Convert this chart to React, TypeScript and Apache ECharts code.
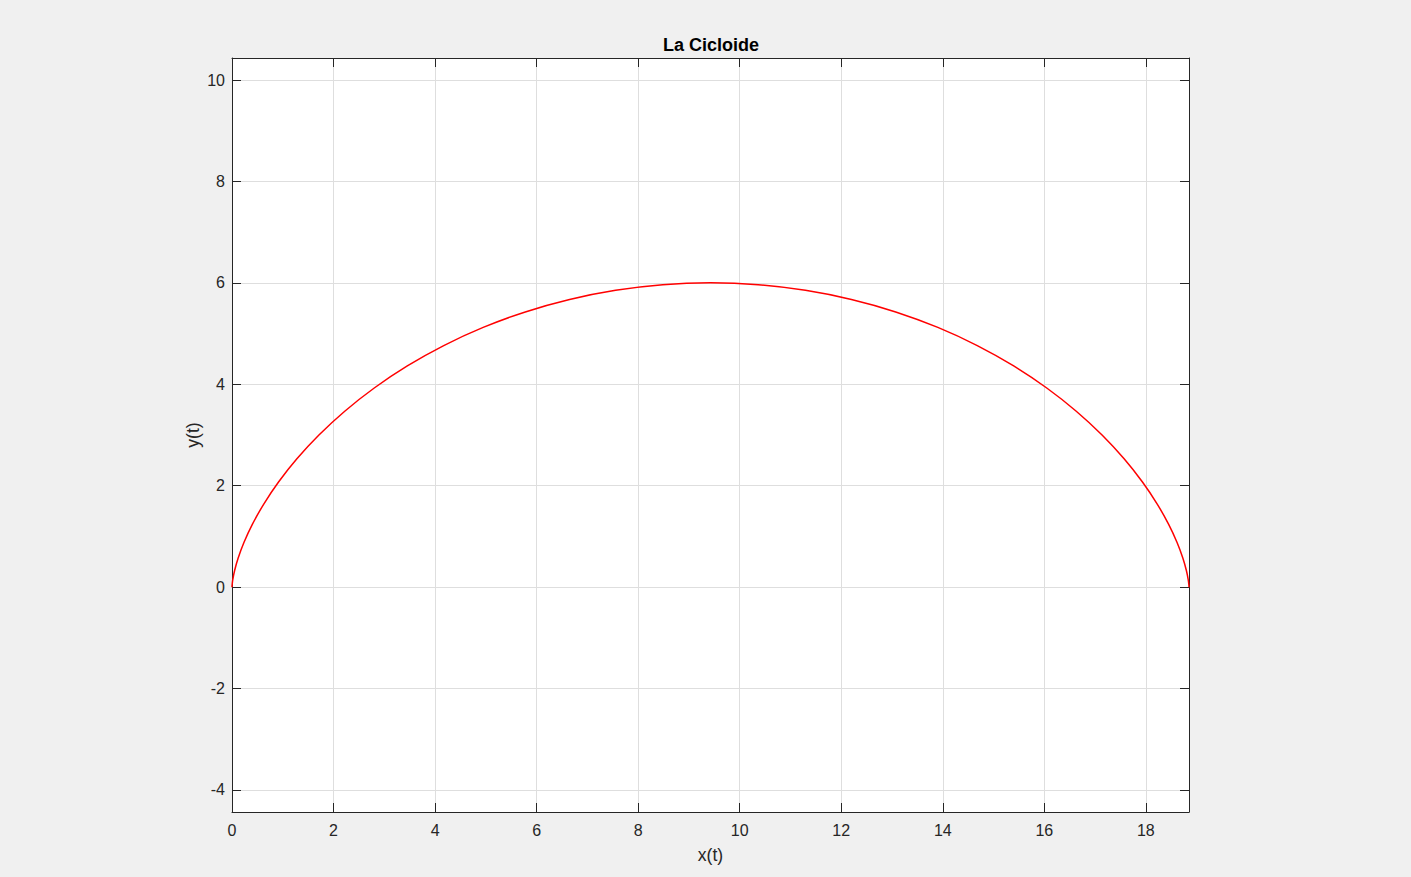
import React, { useEffect, useRef } from "react";
import * as echarts from "echarts";

const titleText = "La Cicloide";
const xName = "x(t)";
const yName = "y(t)";
const xTicks = [0, 2, 4, 6, 8, 10, 12, 14, 16, 18];
const yTicks = [-4, -2, 0, 2, 4, 6, 8, 10];
const xRange = [0, 18.8496];
const yRange = [-4.434, 10.434];

const curveX = [
  0, 0.0019, 0.0154, 0.0517, 0.1216, 0.2349, 0.4004, 0.6257, 0.9167, 1.2781,
  1.7124, 2.2206, 2.8017, 3.4531, 4.1703, 4.9472, 5.7764, 6.6491, 7.5552, 8.4842,
  9.4248, 10.3654, 11.2944, 12.2005, 13.0732, 13.9024, 14.6793, 15.3965, 16.0479,
  16.629, 17.1372, 17.5715, 17.9329, 18.2239, 18.4492, 18.6147, 18.728, 18.7979,
  18.8342, 18.8477, 18.8496,
];
const curveY = [
  0, 0.0369, 0.1468, 0.327, 0.5729, 0.8787, 1.2366, 1.638, 2.0729, 2.5307,
  3.0, 3.4693, 3.9271, 4.362, 4.7634, 5.1213, 5.4271, 5.673, 5.8532, 5.9631,
  6.0, 5.9631, 5.8532, 5.673, 5.4271, 5.1213, 4.7634, 4.362, 3.9271,
  3.4693, 3.0, 2.5307, 2.0729, 1.638, 1.2366, 0.8787, 0.5729, 0.327,
  0.1468, 0.0369, 0,
];

const FONT = "'Liberation Sans', Arial, Helvetica, sans-serif";
const AX = "#262626";
const GRID = "#dedede";

export default function App() {
  const ref = useRef<HTMLDivElement>(null);
  useEffect(() => {
    if (!ref.current) return;
    const chart = echarts.init(ref.current, undefined, { renderer: "svg" });
    const data = curveX.map((x, i) => [x, curveY[i]]);
    const tickBase = {
      show: true,
      inside: true,
      length: 9,
      lineStyle: { color: AX, width: 1 },
    };
    const lineBase = { show: true, onZero: false, lineStyle: { color: AX, width: 1 } };
    chart.setOption({
      animation: false,
      backgroundColor: "#f0f0f0",
      title: {
        text: titleText,
        left: 658,
        top: 31,
        textStyle: { fontFamily: FONT, fontSize: 18, fontWeight: "bold", color: "#000" },
      },
      grid: {
        left: 232,
        top: 58,
        right: 222,
        bottom: 65,
        show: true,
        backgroundColor: "#ffffff",
        borderWidth: 0,
      },
      xAxis: [
        {
          type: "value",
          position: "bottom",
          min: xRange[0],
          max: xRange[1],
          name: xName,
          nameLocation: "middle",
          nameGap: 34,
          nameTextStyle: { fontFamily: FONT, fontSize: 17.6, color: AX },
          axisLine: lineBase,
          axisTick: { ...tickBase, customValues: xTicks },
          axisLabel: {
            customValues: xTicks,
            margin: 10,
            fontFamily: FONT,
            fontSize: 16,
            color: AX,
          },
          splitLine: { show: true, lineStyle: { color: GRID, width: 1 } },
        },
        {
          type: "value",
          position: "top",
          min: xRange[0],
          max: xRange[1],
          axisLine: lineBase,
          axisTick: { ...tickBase, customValues: xTicks },
          axisLabel: { show: false, customValues: xTicks },
          splitLine: { show: false },
        },
      ],
      yAxis: [
        {
          type: "value",
          position: "left",
          min: yRange[0],
          max: yRange[1],
          name: yName,
          nameLocation: "middle",
          nameGap: 30,
          nameMoveOverlap: false,
          nameRotate: 90,
          nameTextStyle: { fontFamily: FONT, fontSize: 17.6, color: AX },
          axisLine: lineBase,
          axisTick: { ...tickBase, customValues: yTicks },
          axisLabel: {
            customValues: yTicks,
            margin: 7,
            fontFamily: FONT,
            fontSize: 16,
            color: AX,
          },
          splitLine: { show: true, lineStyle: { color: GRID, width: 1 } },
        },
        {
          type: "value",
          position: "right",
          min: yRange[0],
          max: yRange[1],
          axisLine: lineBase,
          axisTick: { ...tickBase, customValues: yTicks },
          axisLabel: { show: false, customValues: yTicks },
          splitLine: { show: false },
        },
      ],
      series: [
        {
          type: "line",
          xAxisIndex: 0,
          yAxisIndex: 0,
          data,
          smooth: 0.4,
          showSymbol: false,
          symbol: "none",
          lineStyle: { color: "#ff0000", width: 1.5 },
        },
      ],
    });
    return () => chart.dispose();
  }, []);
  return (
    <div
      ref={ref}
      style={{ position: "fixed", left: 0, top: 0, width: 1411, height: 877 }}
    />
  );
}
